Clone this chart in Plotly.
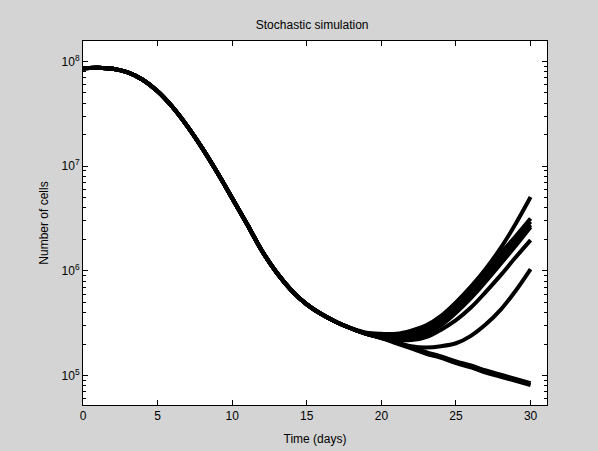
import plotly.graph_objects as go

# ---- data ----
days_common = list(range(0, 19))
cells_common = [8.63e7, 8.71e7, 8.51e7, 7.85e7, 6.68e7, 5.19e7, 3.67e7, 2.40e7,
                1.48e7, 8.71e6, 4.95e6, 2.79e6, 1.55e6, 9.55e5, 6.46e5, 4.79e5,
                3.85e5, 3.24e5, 2.82e5]

days_branch = list(range(19, 31))
branch_a = [2.57e5, 2.51e5, 2.51e5, 2.69e5, 3.02e5, 3.72e5, 5.01e5, 7.08e5, 1.05e6, 1.66e6, 2.82e6, 5.07e6]
branch_b = [2.51e5, 2.34e5, 2.29e5, 2.40e5, 2.75e5, 3.55e5, 4.79e5, 6.76e5, 9.77e5, 1.41e6, 2.04e6, 2.95e6]
branch_c = [2.51e5, 2.34e5, 2.29e5, 2.40e5, 2.69e5, 3.31e5, 4.37e5, 6.03e5, 8.71e5, 1.26e6, 1.86e6, 2.75e6]
branch_d = [2.51e5, 2.34e5, 2.24e5, 2.29e5, 2.51e5, 3.02e5, 3.98e5, 5.50e5, 7.94e5, 1.17e6, 1.74e6, 2.63e6]
branch_e = [2.51e5, 2.40e5, 2.40e5, 2.51e5, 2.88e5, 3.63e5, 4.90e5, 6.92e5, 1.00e6, 1.48e6, 2.14e6, 3.16e6]
branch_f = [2.51e5, 2.29e5, 2.19e5, 2.19e5, 2.34e5, 2.75e5, 3.39e5, 4.47e5, 6.31e5, 9.12e5, 1.35e6, 1.97e6]
branch_g = [2.51e5, 2.29e5, 2.09e5, 1.91e5, 1.86e5, 1.91e5, 2.04e5, 2.40e5, 3.09e5, 4.27e5, 6.46e5, 1.04e6]
branch_h = [2.51e5, 2.29e5, 2.04e5, 1.82e5, 1.62e5, 1.48e5, 1.32e5, 1.20e5, 1.07e5, 9.77e4, 8.91e4, 8.13e4]
branch_h2 = [2.51e5, 2.31e5, 2.08e5, 1.87e5, 1.68e5, 1.53e5, 1.37e5, 1.25e5, 1.12e5, 1.02e5, 9.30e4, 8.50e4]

branches = [branch_a, branch_b, branch_c, branch_d, branch_e, branch_f, branch_g, branch_h, branch_h2]

x_ticks = [0, 5, 10, 15, 20, 25, 30]
y_ticks = [1e5, 1e6, 1e7, 1e8]
y_tick_text = ["10<sup>5</sup>", "10<sup>6</sup>", "10<sup>7</sup>", "10<sup>8</sup>"]
y_minor = [m * 10 ** k for k in range(4, 9) for m in range(2, 10)]

BG = "#d4d4d4"

fig = go.Figure()
for br in branches:
    fig.add_trace(go.Scatter(
        x=days_common + days_branch,
        y=cells_common + br,
        mode="lines",
        line=dict(color="black", width=4, shape="spline", smoothing=1.0),
        showlegend=False,
        hoverinfo="skip",
    ))

font = dict(family="Liberation Sans, Arial, sans-serif", size=12, color="black")

fig.update_layout(
    width=598, height=451,
    margin=dict(l=83, r=51, t=41, b=46, autoexpand=False),
    paper_bgcolor=BG,
    plot_bgcolor="white",
    font=font,
    title=dict(text="Stochastic simulation", x=0.522, xanchor="center",
               y=1 - 25 / 451, yanchor="middle", font=font),
)
fig.update_xaxes(
    range=[0, 31.1], tickvals=x_ticks, ticks="inside", ticklen=5,
    tickcolor="black", showline=True, linecolor="black", linewidth=1,
    mirror="allticks", showgrid=False, zeroline=False, automargin=False,
    title=dict(text="Time (days)", standoff=12, font=font), tickfont=font,
)
fig.update_yaxes(
    type="log", range=[4.72, 8.195], tickvals=y_ticks, ticktext=y_tick_text,
    ticks="inside", ticklen=5, tickcolor="black", showline=True,
    linecolor="black", linewidth=1, mirror="allticks", showgrid=False,
    zeroline=False, automargin=False,
    minor=dict(tickmode="array", tickvals=y_minor, ticks="inside", ticklen=3,
               tickcolor="black", showgrid=False),
    title=dict(text="Number of cells", standoff=10, font=font), tickfont=font,
)

fig.write_html(
    "out.html",
    config={"displayModeBar": False},
    post_script=f"document.body.style.margin='0';document.body.style.background='{BG}';",
)
